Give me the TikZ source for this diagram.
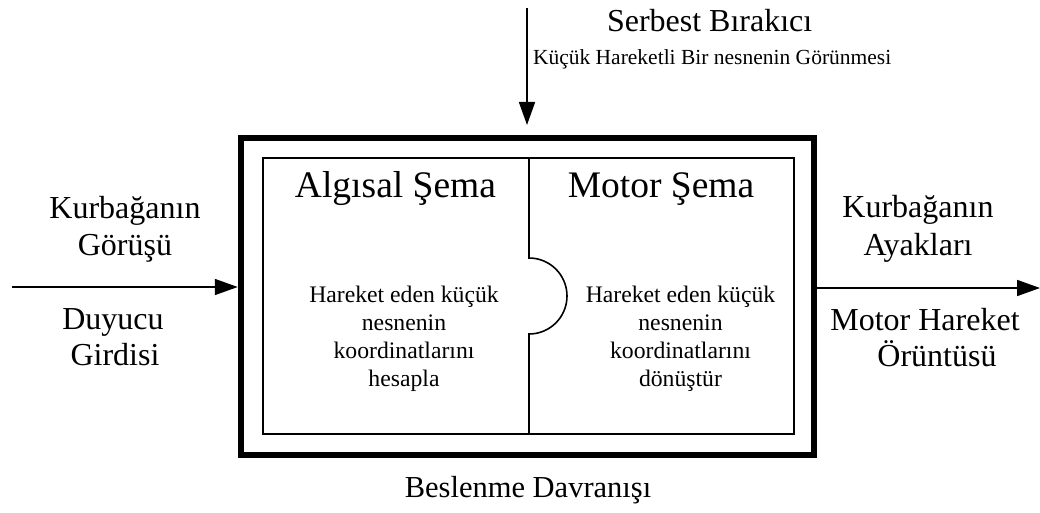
\documentclass[tikz,border=0pt]{standalone}
\usepackage{fontspec}
\setmainfont{Liberation Serif}
\usetikzlibrary{arrows.meta}
\begin{document}
\begin{tikzpicture}[x=1pt,y=-1pt,
  every node/.style={inner sep=0pt,outer sep=0pt},
  flow/.style={line width=1.7pt,-{Triangle[length=23pt,width=16pt]}},
  outerbox/.style={draw,line width=6.5pt,minimum width=573pt,minimum height=317pt},
  innerbox/.style={draw,line width=1.6pt,minimum width=531pt,minimum height=276pt},
  sidelabel/.style={anchor=base,font=\fontsize{32}{37}\selectfont},
  title/.style={anchor=base,font=\fontsize{37.5}{44}\selectfont},
  body/.style={anchor=base,font=\fontsize{23.7}{28.3}\selectfont},
  toplabel/.style={anchor=base west,font=\fontsize{32}{37}\selectfont},
  sublabel/.style={anchor=base west,font=\fontsize{21.5}{25}\selectfont},
  bottomlabel/.style={anchor=base,font=\fontsize{30.5}{36}\selectfont}]
\useasboundingbox (0,0) rectangle (1040,513);

% nested schema boxes
\node[outerbox] (outer) at (527.5,296.5) {};
\node[innerbox] (inner) at (528.5,296) {};

% divider with the puzzle-piece knob
\coordinate (dtop) at (529,158);
\coordinate (dbot) at (529,434);
\draw[line width=1.6pt] (dtop) -- (529,258) arc(-90:90:38) -- (dbot);

% schema titles
\node[title] (perc) at (395.5,197) {Algısal Şema};
\node[title] (mot) at (661,197) {Motor Şema};

% perceptual schema contents
\node[body] (pa) at (404,302) {Hareket eden küçük};
\node[body] (pb) at (404,330.3) {nesnenin};
\node[body] (pc) at (404,358.6) {koordinatlarını};
\node[body] (pd) at (404,386.9) {hesapla};

% motor schema contents
\node[body] (ma) at (680.5,302) {Hareket eden küçük};
\node[body] (mb) at (680.5,330.3) {nesnenin};
\node[body] (mc) at (680.5,358.6) {koordinatlarını};
\node[body] (md) at (680.5,386.9) {dönüştür};

% trigger from above
\coordinate (trig) at (527,8);
\coordinate (trigend) at (527,125);
\draw[flow] (trig) -- (trigend);
\node[toplabel] (rel) at (607,32) {Serbest Bırakıcı};
\node[sublabel] (relsub) at (533,65) {Küçük Hareketli Bir nesnenin Görünmesi};

% sensory input
\coordinate (in) at (12,287);
\draw[flow,shorten >=3.25pt] (in) -- (in -| outer.west);
\node[sidelabel] (ina) at (125,218) {Kurbağanın};
\node[sidelabel] (inb) at (125,255) {Görüşü};
\node[sidelabel] (inc) at (113,329) {Duyucu};
\node[sidelabel] (ind) at (115,365) {Girdisi};

% motor output
\coordinate (out) at (1040,288);
\draw[flow,shorten <=3.25pt] (out -| outer.east) -- (out);
\node[sidelabel] (outa) at (918,217) {Kurbağanın};
\node[sidelabel] (outb) at (918,255) {Ayakları};
\node[sidelabel] (outc) at (925,330) {Motor Hareket};
\node[sidelabel] (outd) at (937,366) {Örüntüsü};

% behaviour name
\node[bottomlabel] (beh) at (528,497) {Beslenme Davranışı};
\end{tikzpicture}
\end{document}
